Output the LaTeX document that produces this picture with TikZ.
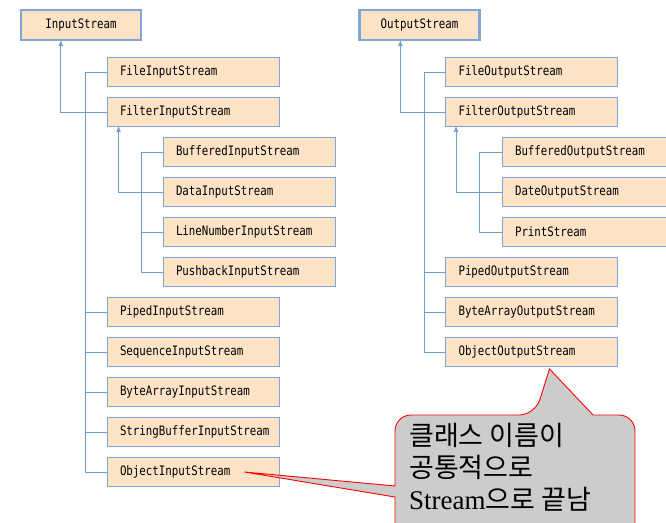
\documentclass[tikz,border=0pt]{standalone}
\usepackage{fontspec}
\setmainfont{Liberation Serif}
\newfontfamily\clsfont[FakeStretch=0.83]{DejaVu Sans Mono}
\newfontfamily\kofont{Noto Sans CJK KR}
\usetikzlibrary{arrows}
\definecolor{boxfill}{RGB}{253,227,198}
\definecolor{boxline}{RGB}{128,166,214}
\definecolor{linkblue}{RGB}{110,155,212}
\definecolor{notegray}{RGB}{204,204,204}

\begin{document}
\begin{tikzpicture}[x=1pt,y=-1pt,>=stealth',node distance=40pt,
  box/.style={rectangle,draw=boxline,fill=boxfill,minimum height=29pt,font=\clsfont\fontsize{13}{15}\selectfont},
  class node/.style={box,line width=0.9pt,text width=146pt,align=left,inner xsep=13pt},
  root node/.style={box,line width=2.2pt,minimum width=120pt,minimum height=30pt},
  link/.style={draw=linkblue,line width=0.9pt},
  note/.style={draw=red,fill=notegray,line width=0.9pt},
  note text/.style={align=left,inner sep=0pt,font=\fontsize{27}{32}\selectfont}]

 \useasboundingbox (0,0) rectangle (666,522);

 % input side
 \node[root node] (is) at (81,25) {InputStream};
 \node[class node] (fis) at (193,72) {FileInputStream};
 \node[class node] (filis) [below of=fis] {FilterInputStream};
 \node[class node] (bis) [below of=filis,xshift=56pt] {BufferedInputStream};
 \node[class node] (dis) [below of=bis] {DataInputStream};
 \node[class node] (lnis) [below of=dis] {LineNumberInputStream};
 \node[class node] (pbis) [below of=lnis] {PushbackInputStream};
 \node[class node] (pis) [below of=pbis,xshift=-56pt] {PipedInputStream};
 \node[class node] (sis) [below of=pis] {SequenceInputStream};
 \node[class node] (bais) [below of=sis] {ByteArrayInputStream};
 \node[class node] (sbis) [below of=bais] {StringBufferInputStream};
 \node[class node] (ois) [below of=sbis] {ObjectInputStream};

 % output side
 \node[root node] (os) at (419.5,25) {OutputStream};
 \node[class node] (fos) at (531.5,72) {FileOutputStream};
 \node[class node] (filos) [below of=fos] {FilterOutputStream};
 \node[class node] (bos) [below of=filos,xshift=56.5pt] {BufferedOutputStream};
 \node[class node] (dos) [below of=bos] {DateOutputStream};
 \node[class node] (ps) [below of=dos] {PrintStream};
 \node[class node] (pos) [below of=ps,xshift=-56.5pt] {PipedOutputStream};
 \node[class node] (baos) [below of=pos] {ByteArrayOutputStream};
 \node[class node] (oos) [below of=baos] {ObjectOutputStream};

 \draw[link,->] (filis.west) -| ([xshift=41pt]is.south west);
 \draw[link] (fis.west) -- ++(-21pt,0) |- (ois.west);
 \foreach \n in {pis,sis,bais,sbis}
   \draw[link] (\n.west) -- ++(-21pt,0);
 \draw[link,->] (dis.west) -| ([xshift=12pt]filis.south west);
 \draw[link] (bis.west) -- ++(-21pt,0) |- (pbis.west);
 \draw[link] (lnis.west) -- ++(-21pt,0);

 \draw[link,->] (filos.west) -| ([xshift=42pt]os.south west);
 \draw[link] (fos.west) -- ++(-21pt,0) |- (oos.west);
 \foreach \n in {pos,baos}
   \draw[link] (\n.west) -- ++(-21pt,0);
 \draw[link,->] (dos.west) -| ([xshift=11pt]filos.south west);
 \draw[link] (bos.west) -- ++(-22pt,0) |- (ps.west);

 % callout
 \coordinate (tipin) at ([xshift=-35pt]ois.east);
 \coordinate (tipout) at ([xshift=18pt,yshift=-2pt]oos.south);
 \draw[note] (395,545) -- (395,497) -- (tipin) -- (395,486)
   [rounded corners=16pt] -- (395,415) -- (535,415)
   [sharp corners] -- (tipout) -- (593,415)
   [rounded corners=16pt] -- (635,415) -- (635,545);
 \node[note text,anchor=north west] (msg) at (409,423)
   {{\kofont 클래스 이름이}\\{\kofont 공통적으로}\\Stream{\kofont 으로 끝남}};

\end{tikzpicture}
\end{document}
